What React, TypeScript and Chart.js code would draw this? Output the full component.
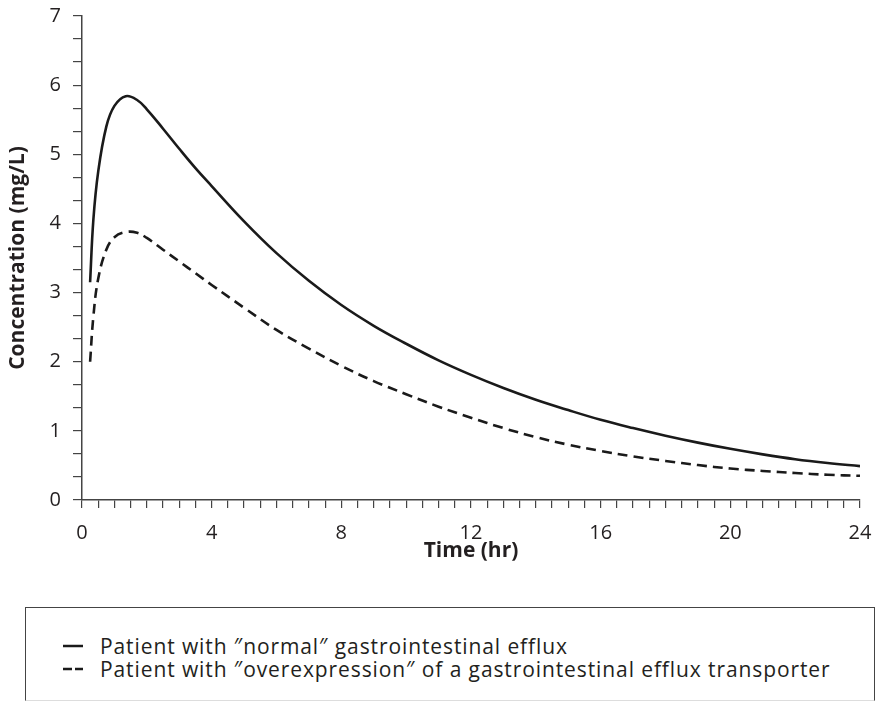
import React, { useEffect, useRef } from "react";
import { Chart, registerables } from "chart.js";

Chart.register(...registerables);

// ---- data ----
const timeHr = [0.25, 0.35, 0.5, 0.75, 1.0, 1.35, 1.7, 2.0, 2.5, 3.0, 3.5, 4, 5, 6, 7, 8, 9, 10, 11, 12, 13, 14, 15, 16, 17, 18, 19, 20, 21, 22, 23, 24];
const normalConc = [3.15, 4.05, 4.75, 5.4, 5.7, 5.84, 5.785, 5.65, 5.37, 5.08, 4.8, 4.54, 4.03, 3.57, 3.17, 2.82, 2.52, 2.26, 2.02, 1.81, 1.62, 1.45, 1.3, 1.16, 1.04, 0.93, 0.83, 0.74, 0.66, 0.59, 0.535, 0.49];
const overexpConc = [2.0, 2.65, 3.2, 3.62, 3.8, 3.875, 3.865, 3.79, 3.62, 3.45, 3.28, 3.11, 2.78, 2.46, 2.19, 1.94, 1.72, 1.53, 1.35, 1.19, 1.04, 0.91, 0.8, 0.71, 0.63, 0.565, 0.505, 0.455, 0.42, 0.39, 0.365, 0.35];
const seriesLabels = [
  "Patient with \u2033normal\u2033 gastrointestinal efflux",
  "Patient with \u2033overexpression\u2033 of a gastrointestinal efflux transporter",
];
const xLabelTicks = [0, 4, 8, 12, 16, 20, 24];
const yLabelTicks = [0, 1, 2, 3, 4, 5, 6, 7];
const xMinorPerHour = 2; // minor tick every 0.5 hr
const yMinorPerUnit = 3; // minor tick every 1/3 mg/L
const xTitle = "Time (hr)";
const yTitle = "Concentration (mg/L)";

const FONT = "'Open Sans', Lato, sans-serif";
const INK = "#231f20";
const AXIS = "#444444";
const dashes: number[][] = [[], [10, 6]];

export default function App() {
  const ref = useRef<HTMLCanvasElement | null>(null);

  useEffect(() => {
    if (!ref.current) return;
    const xMin = xLabelTicks[0];
    const xMax = xLabelTicks[xLabelTicks.length - 1];
    const yMin = yLabelTicks[0];
    const yMax = yLabelTicks[yLabelTicks.length - 1];

    const chart = new Chart(ref.current, {
      type: "line",
      data: {
        datasets: [normalConc, overexpConc].map((vals, i) => ({
          label: seriesLabels[i],
          data: timeHr.map((t, j) => ({ x: t, y: vals[j] })),
          borderColor: "#1a1a1a",
          borderWidth: 2.6,
          borderDash: dashes[i],
          pointRadius: 0,
          fill: false,
          tension: 0.4,
        })),
      },
      options: {
        animation: false,
        responsive: false,
        devicePixelRatio: 1,
        layout: { padding: { left: 0, right: 19, top: 16, bottom: 0 } },
        plugins: { legend: { display: false }, tooltip: { enabled: false } },
        scales: {
          x: {
            type: "linear",
            min: xMin,
            max: xMax,
            afterBuildTicks: (scale: any) => {
              const t: any[] = [];
              for (let i = xMin * xMinorPerHour; i <= xMax * xMinorPerHour; i++) t.push({ value: i / xMinorPerHour });
              scale.ticks = t;
            },
            afterFit: (scale: any) => {
              scale.height = 80;
              scale.paddingLeft = 0;
              scale.paddingRight = 0;
            },
            ticks: {
              autoSkip: false,
              maxRotation: 0,
              padding: 13,
              color: INK,
              font: { family: FONT, size: 20 },
              callback: (v: any) => (xLabelTicks.includes(Number(v)) ? String(v) : ""),
            },
            grid: { drawOnChartArea: false, drawTicks: true, tickLength: 8, color: AXIS, lineWidth: 1.2 },
            border: { display: true, color: AXIS, width: 1.5 },
            title: {
              display: true,
              text: xTitle,
              color: INK,
              font: { family: FONT, size: 21, weight: "bold" },
              padding: { top: 0, bottom: 16 },
            },
          },
          y: {
            type: "linear",
            min: yMin,
            max: yMax,
            afterBuildTicks: (scale: any) => {
              const t: any[] = [];
              for (let i = yMin * yMinorPerUnit; i <= yMax * yMinorPerUnit; i++) t.push({ value: i / yMinorPerUnit });
              scale.ticks = t;
            },
            afterFit: (scale: any) => {
              scale.width = 82;
              scale.paddingTop = 0;
              scale.paddingBottom = 0;
            },
            ticks: {
              autoSkip: false,
              padding: 12,
              color: INK,
              font: { family: FONT, size: 20 },
              callback: (v: any) => {
                const n = Number(v);
                const r = Math.round(n);
                return Math.abs(n - r) < 1e-6 && yLabelTicks.includes(r) ? String(r) : "";
              },
            },
            grid: { drawOnChartArea: false, drawTicks: true, tickLength: 9, color: AXIS, lineWidth: 1.2 },
            border: { display: true, color: AXIS, width: 1.5 },
            title: {
              display: true,
              text: yTitle,
              color: INK,
              font: { family: FONT, size: 21, weight: "bold" },
              padding: { top: 5, bottom: 0 },
            },
          },
        },
      },
    });
    return () => chart.destroy();
  }, []);

  return (
    <div style={{ position: "absolute", left: 0, top: 0, width: 879, height: 702, background: "#fff", overflow: "hidden" }}>
      <canvas ref={ref} width={879} height={580} style={{ position: "absolute", left: 0, top: 0, width: 879, height: 580 }} />
      <div
        style={{
          position: "absolute",
          left: 25,
          top: 607,
          width: 850,
          height: 94,
          borderTop: `1.5px solid ${AXIS}`,
          borderLeft: `1.5px solid ${AXIS}`,
          borderRight: `1.5px solid ${AXIS}`,
          borderBottom: "1px solid #dddddd",
          boxSizing: "border-box",
          fontFamily: FONT,
          fontSize: 21,
          letterSpacing: "0.9px",
          color: INK,
        }}
      >
        {seriesLabels.map((lab, i) => (
          <div
            key={i}
            style={{ position: "absolute", left: 37, top: 26 + i * 23, height: 23, display: "flex", alignItems: "center", whiteSpace: "nowrap" }}
          >
            <svg width={20} height={6} style={{ marginRight: 17 }}>
              <line x1={0} y1={3} x2={20} y2={3} stroke="#1a1a1a" strokeWidth={2.5} strokeDasharray={dashes[i].length ? "9,3" : undefined} />
            </svg>
            <span>{lab}</span>
          </div>
        ))}
      </div>
    </div>
  );
}
